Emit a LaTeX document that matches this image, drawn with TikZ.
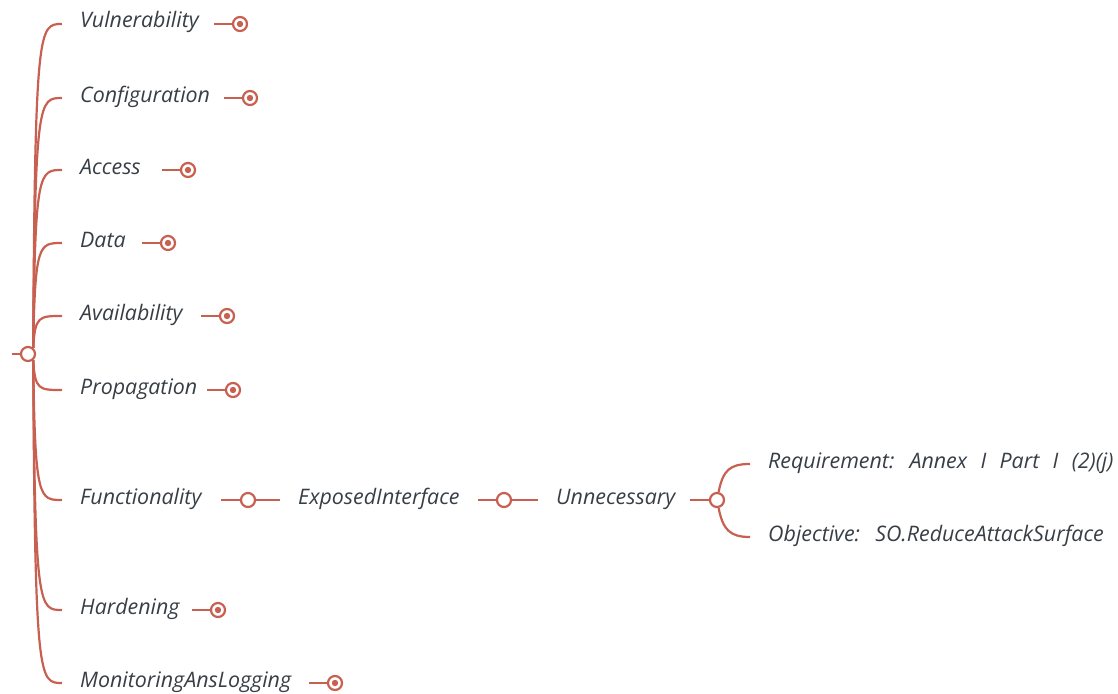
\documentclass[tikz,border=0pt]{standalone}
\usepackage{fontspec}
\setmainfont{Open Sans}[WordSpace=2.4]
\definecolor{mmred}{RGB}{200,96,82}
\definecolor{mmtext}{RGB}{55,62,70}
\begin{document}
\begin{tikzpicture}[x=1pt,y=-1pt,
  branch/.style={draw=mmred,line width=2.2pt},
  topic/.style={anchor=base west,inner sep=0pt,text=mmtext,
    font=\fontsize{21.4}{24}\selectfont\itshape},
  hub/.style={circle,draw=mmred,fill=white,line width=2.2pt,
    minimum size=14pt,inner sep=0pt},
  fold/.style={hub,path picture={\fill[mmred]
    (path picture bounding box.center) circle (3.2pt);}},
]
\useasboundingbox (0,0) rectangle (1118,693);

% central topic
\node[hub] (root) at (28,354) {};
\coordinate (rootin) at (12,354);
\draw[branch] (rootin) -- (root);

% main topics hanging off the central node
\foreach \n/\t/\y/\a in {vul/Vulnerability/24/50, conf/Configuration/98/50,
    acc/Access/170/50, data/Data/243/50, avail/Availability/316/50,
    prop/Propagation/390/-50, func/Functionality/500/-50,
    hard/Hardening/610/-50, mon/MonitoringAnsLogging/683/-50}{
  \coordinate (\n-in) at (62,\y);
  \node[topic] (\n) at (80,\y+4) {\t};
  \draw[branch] (root.\a) .. controls (35,\y) and (39,\y) .. (\n-in);
}

% collapsed markers
\foreach \n/\x in {vul/240, conf/250, acc/188, data/168, avail/227,
    prop/233, hard/218, mon/335}{
  \node[fold] (\n-fold) at (\x,0 |- \n-in) {};
  \coordinate (\n-out) at ([xshift=-26pt]\n-fold.center);
  \draw[branch] (\n-out) -- (\n-fold);
}

% Functionality -> ExposedInterface -> Unnecessary
\node[hub] (func-dot) at (248,500) {};
\coordinate (func-out) at (221,500);
\coordinate (exp-in) at (280,500);
\draw[branch] (func-out) -- (func-dot) -- (exp-in);
\node[topic] (exp) at (298,504) {ExposedInterface};

\node[hub] (exp-dot) at (504,500) {};
\coordinate (exp-out) at (478,500);
\coordinate (un-in) at (538,500);
\draw[branch] (exp-out) -- (exp-dot) -- (un-in);
\node[topic] (un) at (556,504) {Unnecessary};

\node[hub] (un-dot) at (717,500) {};
\coordinate (un-out) at (690,500);
\draw[branch] (un-out) -- (un-dot);

% leaves of Unnecessary
\coordinate (req-in) at (750,464);
\coordinate (obj-in) at (750,537);
\draw[branch] (un-dot) .. controls (723,470) and (730,464) .. (req-in);
\draw[branch] (un-dot) .. controls (723,530) and (730,537) .. (obj-in);
\node[topic] (req) at (768,468) {Requirement: Annex I Part I (2)(j)};
\node[topic] (obj) at (768,541) {Objective: SO.ReduceAttackSurface};
\end{tikzpicture}
\end{document}
